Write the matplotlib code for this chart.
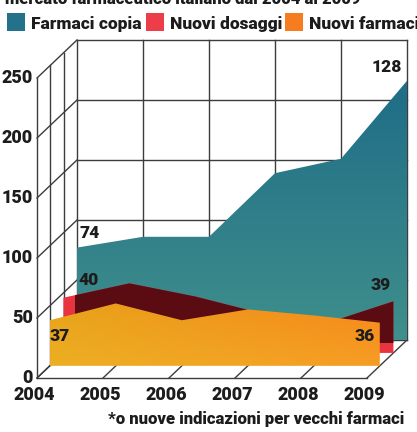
import numpy as np
import matplotlib.pyplot as plt
from matplotlib.patches import Polygon, Rectangle

# dati (scala dell'asse)
anni = [2004, 2005, 2006, 2007, 2008, 2009]
farmaci_copia = [77, 86, 86, 139, 151, 216]
nuovi_dosaggi = [46, 58, 47, 33, 25, 43]
nuovi_farmaci = [38, 52, 38, 47, 42, 36]
etichette_copia = ["74", "128"]
etichette_dosaggi = ["40", "39"]
etichette_farmaci = ["37", "36"]
serie = ["Farmaci copia", "Nuovi dosaggi", "Nuovi farmaci*"]
colori_legenda = ["#24718a", "#ec3d48", "#f57d1f"]
tick_y = [0, 50, 100, 150, 200, 250]
titolo = "mercato farmaceutico italiano dal 2004 al 2009"
nota = "*o nuove indicazioni per vecchi farmaci"

font = dict(family="Roboto", fontweight="heavy")
nero = "#1c1c1c"
linea = "#3c3c3c"

# finta prospettiva: profondita' d in [0, 1]
DX = 40 / 66
DY = 38 / 1.2


def proj(x, v, d):
    return np.asarray(x, float) + d * DX, np.asarray(v, float) + d * DY


W, H = 417, 432
fig = plt.figure(figsize=(W / 100, H / 100), dpi=100)
fig.patch.set_facecolor("white")
ax = fig.add_axes([0, 0, 1, 1])
ax.axis("off")
x0, x1 = anni[0], anni[-1]

# parete di fondo
for v in tick_y:
    xa, ya = proj([x0, x1], [v, v], 1)
    ax.plot(xa, ya, color=linea, lw=1.0, zorder=1)
for a in anni:
    xa, ya = proj([a, a], [0, tick_y[-1]], 1)
    ax.plot(xa, ya, color=linea, lw=1.0, zorder=1)
# parete sinistra
for v in tick_y:
    xa, ya = proj([x0, x0], [v, v], np.array([0, 1]))
    ax.plot(xa, ya, color=linea, lw=1.0, zorder=1)
for d in [0, 1 / 3, 2 / 3]:
    xa, ya = proj([x0, x0], [0, tick_y[-1]], d)
    ax.plot(xa, ya, color=linea, lw=1.0, zorder=1)
# pavimento
xa, ya = proj([x0, x1], [0, 0], 0)
ax.plot(xa, ya, color=linea, lw=1.0, zorder=1)
for a in anni:
    xa, ya = proj([a, a], [0, 0], np.array([0, 1]))
    ax.plot(xa, ya, color=linea, lw=1.0, zorder=1)


def poligono(valori, d):
    xs, ys = proj(anni, valori, d)
    bx, by = proj([x1, x0], [0, 0], d)
    return np.column_stack([np.r_[xs, bx], np.r_[ys, by]])


def gradiente(pts, img, z):
    poly = Polygon(pts, closed=True, facecolor="none", edgecolor="none")
    ax.add_patch(poly)
    im = ax.imshow(img, extent=[pts[:, 0].min(), pts[:, 0].max(),
                                pts[:, 1].min(), pts[:, 1].max()],
                   origin="lower", aspect="auto", interpolation="bilinear", zorder=z)
    im.set_clip_path(poly)


def hex2rgb(h):
    return np.array([int(h[i:i + 2], 16) for i in (1, 3, 5)]) / 255


# Farmaci copia (in fondo)
pts = poligono(farmaci_copia, 1.0)
s = np.linspace(0, 1, 100)[:, None, None]
img = hex2rgb("#3f8f8c") * (1 - s) + hex2rgb("#1f6d87") * s
gradiente(pts, np.repeat(img, 2, axis=1), 2)

# Nuovi dosaggi (centro)
pts = poligono(nuovi_dosaggi, 0.66)
ax.add_patch(Polygon(pts, closed=True, facecolor="#e8343f", edgecolor="none", zorder=3))
cx, cy = proj(x0 + 0.18, 8, 0.66)
scura = Polygon(pts, closed=True, facecolor="#5a0c12", edgecolor="none", zorder=4)
ax.add_patch(scura)
clip = Rectangle((cx, cy), 20, 400, transform=ax.transData)
scura.set_clip_path(clip)

# Nuovi farmaci (davanti)
pts = poligono(nuovi_farmaci, 0.32)
t = np.linspace(0, 1, 200)[None, :, None]
s = np.linspace(0, 1, 100)[:, None, None]
base = hex2rgb("#e8a31a") * (1 - t) + hex2rgb("#f6881b") * t
img = base * (0.65 + 0.35 * s) + hex2rgb("#f6c436") * (0.35 - 0.35 * s)
gradiente(pts, np.clip(img, 0, 1), 5)

# etichette valori
def etichetta(x, v, d, testo, dx, dy, ha, va):
    px, py = proj(x, v, d)
    ax.annotate(testo, (px, py), xytext=(dx, dy), textcoords="offset pixels",
                ha=ha, va=va, fontsize=12.5, color=nero, zorder=10, **font)


etichetta(x0, farmaci_copia[0], 1.0, etichette_copia[0], 2, 7, "left", "bottom")
etichetta(x1, farmaci_copia[-1], 1.0, etichette_copia[1], -5, 6, "right", "bottom")
etichetta(x0, nuovi_dosaggi[0], 0.66, etichette_dosaggi[0], 15, 10, "left", "bottom")
etichetta(x1, nuovi_dosaggi[-1], 0.66, etichette_dosaggi[1], -3, 8, "right", "bottom")
etichetta(x0, nuovi_farmaci[0], 0.32, etichette_farmaci[0], 0, -8, "left", "top")
etichetta(x1, nuovi_farmaci[-1], 0.32, etichette_farmaci[1], -5, -5, "right", "top")

# assi
for v in tick_y:
    px, py = proj(x0, v, 0)
    ax.annotate(str(v), (px, py), xytext=(-4, 0), textcoords="offset pixels",
                ha="right", va="center", fontsize=13, color=nero, **font)
for a in anni:
    px, py = proj(a, 0, 0)
    ax.annotate(str(a), (px, py), xytext=(-3, -17), textcoords="offset pixels",
                ha="center", va="center", fontsize=13, color=nero, **font)

ax.set_xlim(x0 - 37 / 66, x0 + 380 / 66)
ax.set_ylim(-54 / 1.2, 378 / 1.2)

# titolo (tagliato in alto come nell'originale), legenda, nota
fig.text(5 / W, 1 - 4 / H, titolo, ha="left", va="baseline", fontsize=12, color=nero, **font)
pos_quadrati = [7, 146, 285]
for nome, col, xq in zip(serie, colori_legenda, pos_quadrati):
    fig.patches.append(Rectangle((xq / W, 1 - 31 / H), 18 / W, 18 / H,
                                 transform=fig.transFigure, facecolor=col, edgecolor="none"))
    fig.text((xq + 24) / W, 1 - 29 / H, nome, ha="left", va="baseline",
             fontsize=12.5, color=nero, **font)
fig.text(404 / W, 1 - 424 / H, nota, ha="right", va="baseline", fontsize=12, color=nero, **font)

fig.savefig("out.png", dpi=100, facecolor="white")
